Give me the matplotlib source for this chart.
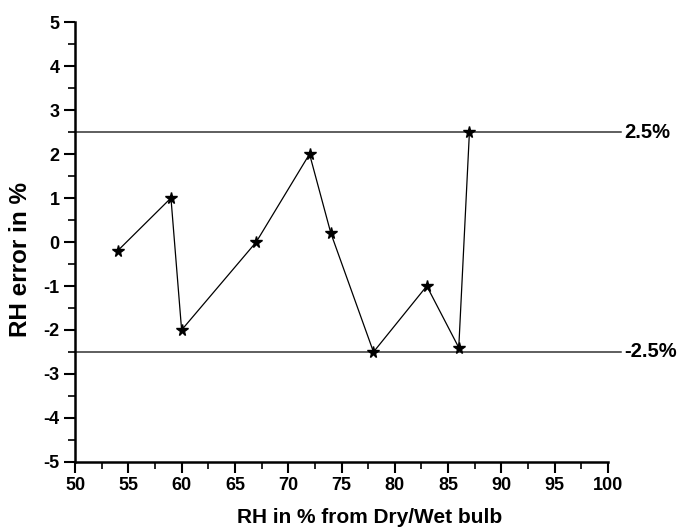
import matplotlib

matplotlib.use("Agg")
import matplotlib.pyplot as plt
from matplotlib.ticker import MultipleLocator

plt.rcParams["font.family"] = ["Liberation Sans", "DejaVu Sans"]
plt.rcParams["font.weight"] = "bold"
plt.rcParams["axes.labelweight"] = "bold"
plt.rcParams["axes.unicode_minus"] = False

rh_ref = [54, 59, 60, 67, 72, 74, 78, 83, 86, 87]
rh_error = [-0.2, 1.0, -2.0, 0.0, 2.0, 0.2, -2.5, -1.0, -2.4, 2.5]
limits = [2.5, -2.5]
limit_labels = ["2.5%", "-2.5%"]

fig = plt.figure(figsize=(6.82, 5.32), dpi=100)
ax = fig.add_axes([0.110, 0.1316, 0.7815, 0.827])

for y, lab in zip(limits, limit_labels):
    ax.plot([0, 1.025], [y, y], transform=ax.get_yaxis_transform(), color="#333333",
            linewidth=1.1, clip_on=False, zorder=1)
    ax.text(1.03, y, lab, transform=ax.get_yaxis_transform(), fontsize=14.5,
            fontweight="bold", va="center", ha="left")

ax.plot(rh_ref, rh_error, color="black", linewidth=0.9, marker="*", markersize=8.5,
        markerfacecolor="black", markeredgecolor="black", zorder=3, clip_on=False)

ax.set_xlim(50, 100)
ax.set_ylim(-5, 5)
ax.xaxis.set_major_locator(MultipleLocator(5))
ax.xaxis.set_minor_locator(MultipleLocator(2.5))
ax.yaxis.set_major_locator(MultipleLocator(1))
ax.yaxis.set_minor_locator(MultipleLocator(0.5))
ax.spines[["top", "right"]].set_visible(False)
for s in ("left", "bottom"):
    ax.spines[s].set_linewidth(1.8)
ax.tick_params(which="major", direction="out", length=8, width=1.5, labelsize=13, pad=3)
ax.tick_params(which="minor", direction="out", length=5, width=1.2)

ax.set_xlabel("RH in % from Dry/Wet bulb", fontsize=15)
ax.set_ylabel("RH error in %", fontsize=17.5)
ax.xaxis.set_label_coords(0.552, -0.105)
ax.yaxis.set_label_coords(-0.08, 0.46)

fig.savefig("out.png", dpi=100)
